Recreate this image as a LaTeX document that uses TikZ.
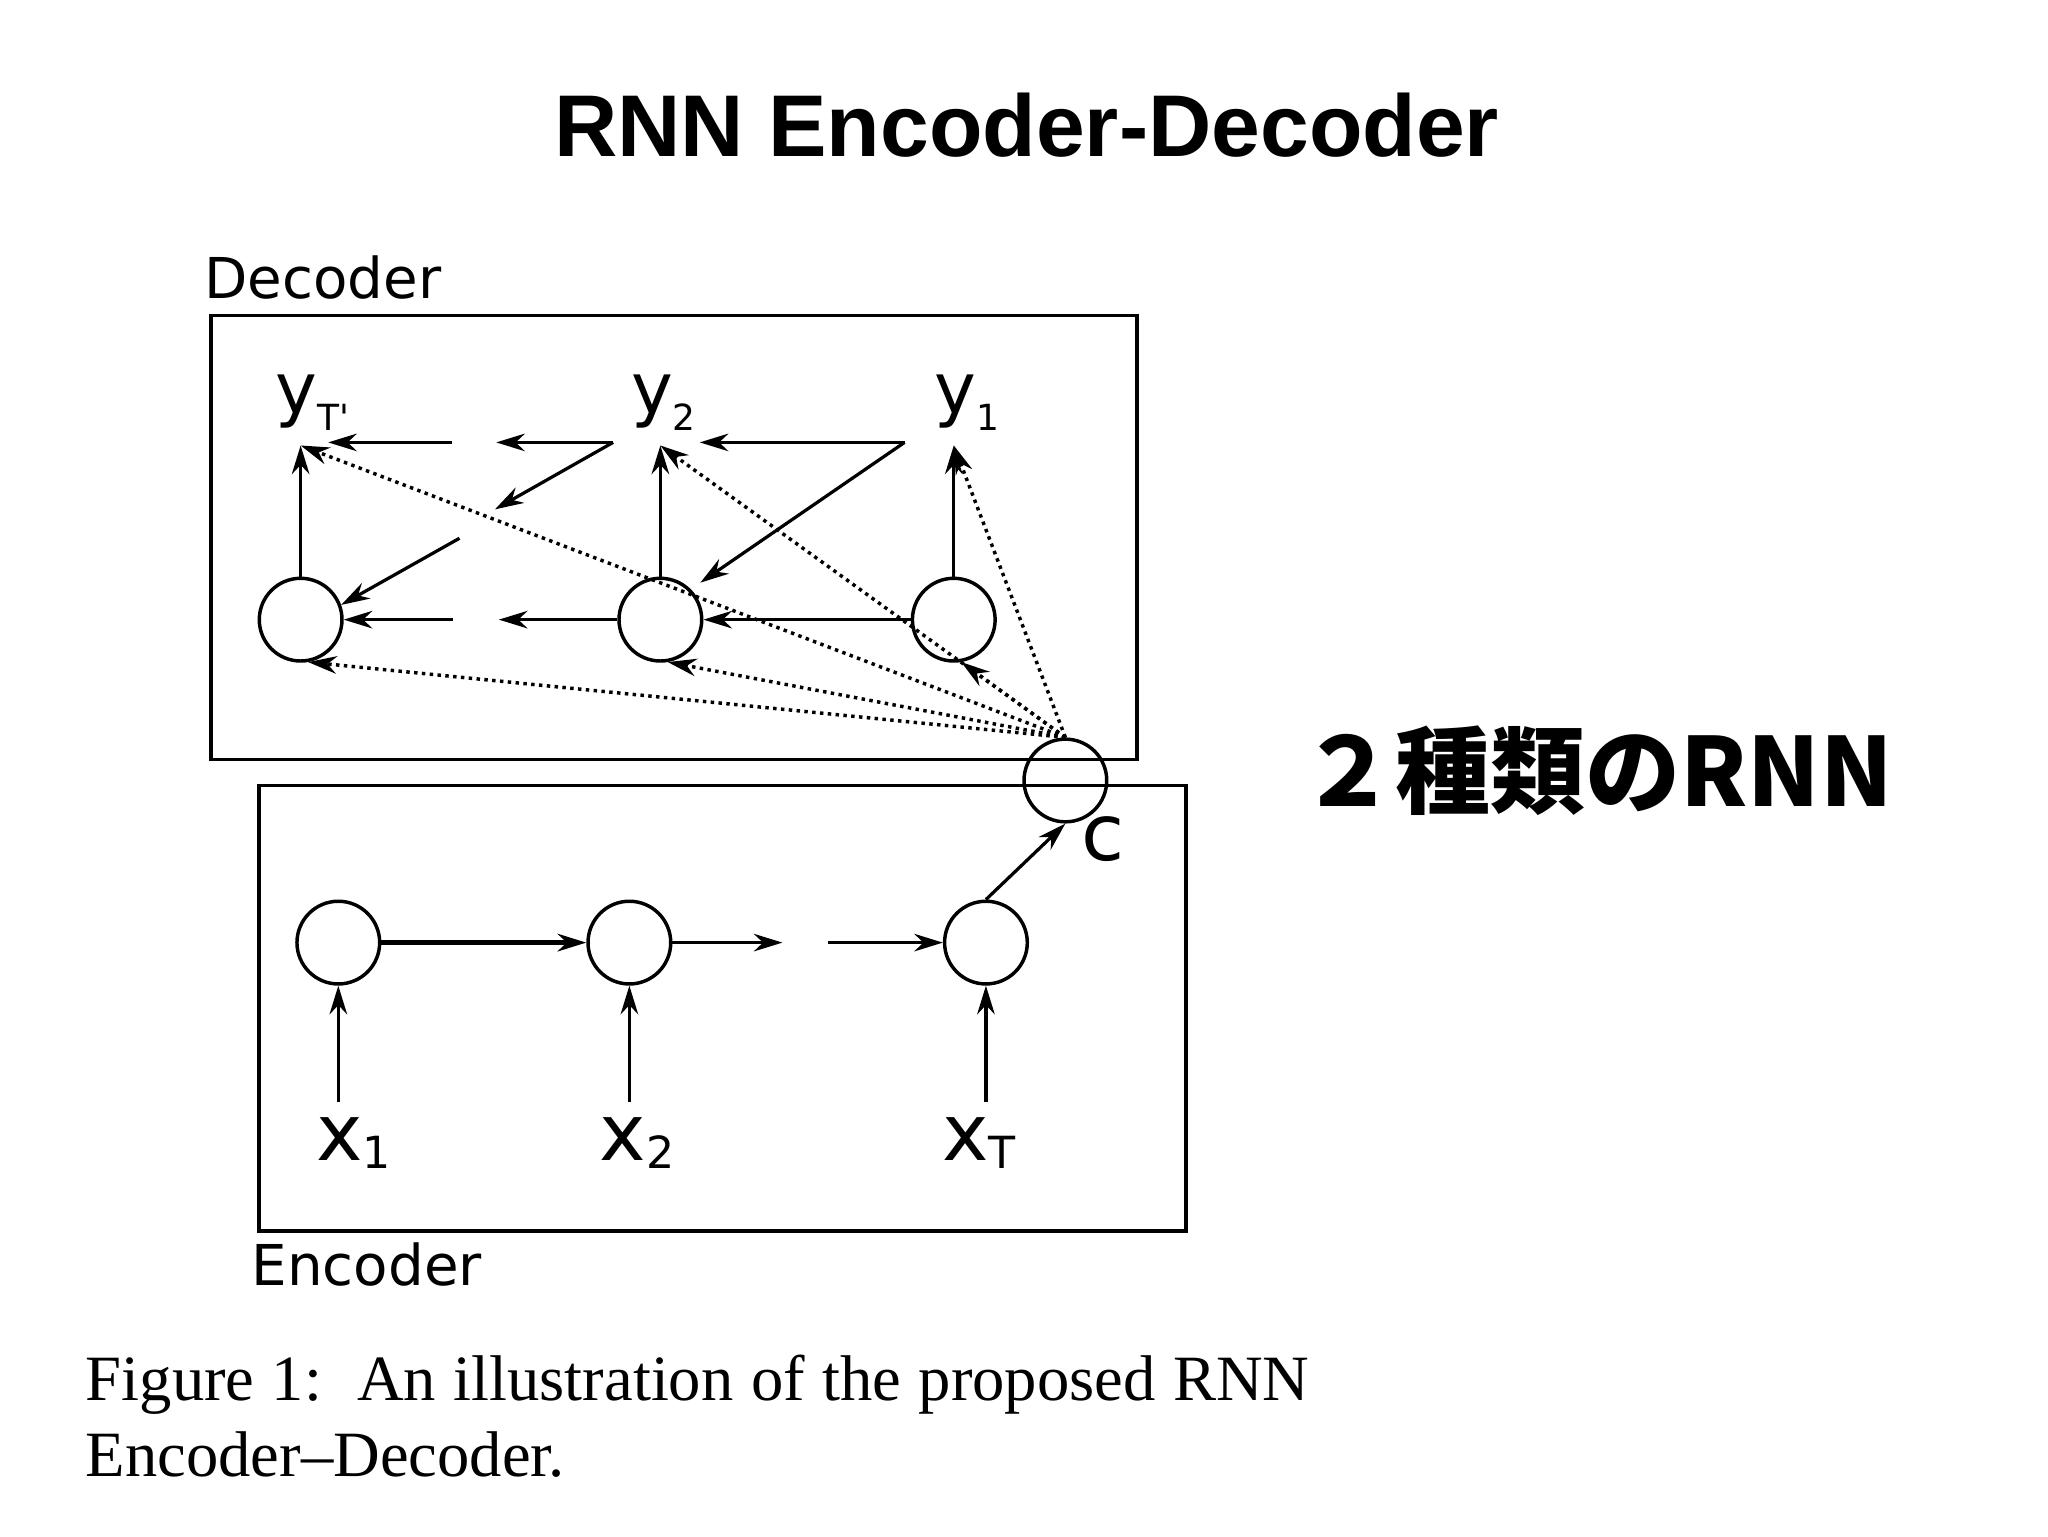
\documentclass[tikz,border=0pt]{standalone}
\usepackage{fontspec}
\usetikzlibrary{arrows.meta}
\newfontfamily\figfont{DejaVu Sans}
\newfontfamily\headfont{Liberation Sans}
\newfontfamily\capfont{Liberation Serif}
\newfontfamily\jpfont{Noto Sans CJK JP}
\newcommand{\ysub}[1]{\raisebox{-3.6pt}{\fontsize{7.8}{8}\selectfont#1}}
\newcommand{\xsub}[1]{\raisebox{-1.8pt}{\fontsize{9.6}{10}\selectfont#1}}

\begin{document}
\begin{tikzpicture}[
	>={Stealth[length=6.2pt,width=3.8pt,inset=2pt]},
	box/.style={draw,line width=0.8pt,inner sep=0pt,anchor=north west},
	boxlbl/.style={font=\figfont\fontsize{12.2}{13}\selectfont,anchor=base west,inner sep=0pt},
	cell/.style={draw,circle,minimum size=6.3mm,inner sep=0pt,line width=0.75pt},
	ylbl/.style={font=\figfont\fontsize{15.3}{15}\selectfont,anchor=base west,inner xsep=0pt,inner ysep=1.1mm},
	xlbl/.style={font=\figfont\fontsize{17}{17}\selectfont,anchor=base west,inner xsep=0pt,inner ysep=1.1mm},
	link/.style={->,line width=0.7pt},
	ctx/.style={->,line width=0.75pt,dash pattern=on 0.75pt off 0.95pt}
	]
		\useasboundingbox (0,0) rectangle (15.6,-11.7);

		\node[anchor=base,font=\headfont\bfseries\fontsize{19}{20}\selectfont] (title) at (7.82,-1.195) {RNN Encoder-Decoder};
		\node[anchor=base west,font=\jpfont\bfseries\fontsize{20.6}{22}\selectfont] (note) at (9.78,-6.14) {２種類のRNN};

		% the two boxes
		\node[box,minimum width=7.05cm,minimum height=3.38cm] (dec) at (1.595,-2.39) {};
		\node[box,minimum width=7.06cm,minimum height=3.39cm] (enc) at (1.96,-5.97) {};
		\node[boxlbl] (declbl) at (1.55,-2.27) {Decoder};
		\node[boxlbl] (enclbl) at (1.91,-9.79) {Encoder};

		% decoder
		\foreach \n/\x/\lx/\s in {T/2.29/2.09/T\textquotesingle, 2/5.03/4.80/2, 1/7.265/7.11/1}
		{
			\node[cell] (h\n) at (\x,-4.72) {};
			\node[ylbl] (y\n) at (\lx,-3.15) {y\ysub{\s}};
			\draw[link] (h\n.north) -- (h\n.north |- y\n.south);
		}
		\coordinate (j1) at (6.89,-3.37);
		\coordinate (k1) at (5.33,-3.37);
		\coordinate (j2) at (4.67,-3.37);
		\coordinate (k2) at (3.78,-3.37);
		\coordinate (m2) at (3.77,-3.88);
		\coordinate (g1) at (3.44,-3.37);
		\coordinate (k3) at (2.50,-3.37);
		\coordinate (g2) at (3.50,-4.10);
		\coordinate (k4) at (3.80,-4.72);
		\coordinate (g3) at (3.45,-4.72);
		\draw[link] (j1) -- (k1);
		\draw[link,shorten >=2.5pt] (j1) -- (h2.45);
		\draw[link] (h1) -- (h2);
		\draw[link] (j2) -- (k2);
		\draw[link] (j2) -- (m2);
		\draw[link] (h2.west) -- (k4);
		\draw[link] (g1) -- (k3);
		\draw[link] (g2) -- (hT.20);
		\draw[link] (g3) -- (hT);

		% encoder
		\foreach \n/\x/\lx in {1/2.577/2.40, 2/4.794/4.56, T/7.51/7.17}
		{
			\node[cell] (e\n) at (\x,-7.18) {};
			\node[xlbl] (x\n) at (\lx,-8.836) {x\xsub{\n}};
			\draw[link] (e\n.south |- x\n.north) -- (e\n.south);
		}
		\coordinate (k5) at (5.96,-7.18);
		\coordinate (g4) at (6.31,-7.18);
		\draw[link,line width=1.2pt] (e1) -- (e2);
		\draw[link] (e2) -- (k5);
		\draw[link] (g4) -- (eT);

		% summary c
		\node[cell] (c) at (8.115,-5.945) {};
		\node[xlbl] (clbl) at (8.23,-6.555) {c};
		\draw[link] (eT.north) -- (c.south);
		\foreach \n in {T,2,1}
		{
			\draw[ctx] (c.north) -- (h\n.north |- y\n.south);
			\draw[ctx] (c.north) -- (h\n.-80);
		}

		% caption
		\node[anchor=base west,inner sep=0pt,font=\capfont\fontsize{14}{16}\selectfont] (cap1) at (0.647,-10.67)
			{\makebox[9.32cm][s]{Figure 1:\ \ An illustration of the proposed RNN}};
		\node[anchor=base west,inner sep=0pt,font=\capfont\fontsize{14}{16}\selectfont] (cap2) at (0.647,-11.25)
			{Encoder–Decoder.};
\end{tikzpicture}
\end{document}
